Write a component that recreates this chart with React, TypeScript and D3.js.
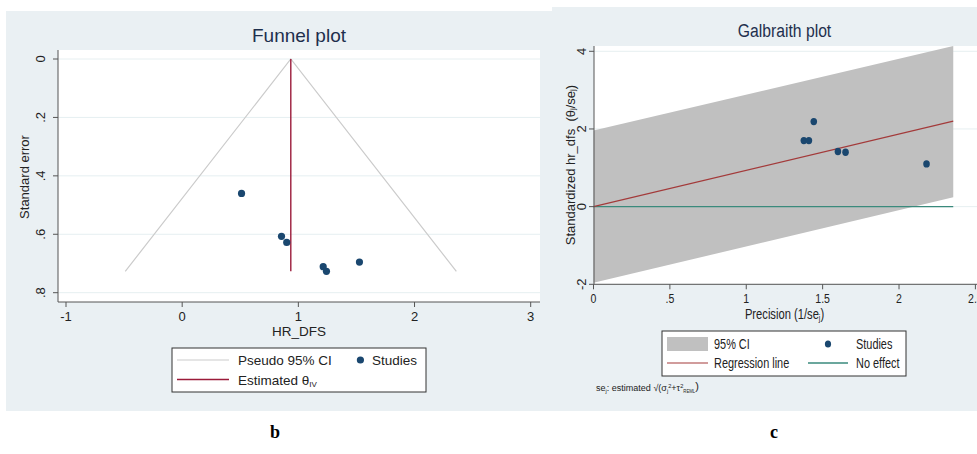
import * as d3 from 'd3';
import type { ReactNode } from 'react';

// Funnel plot (left): one point per study
const hrDfs = [0.511, 0.855, 0.9, 1.214, 1.242, 1.526];
const stdError = [0.46, 0.607, 0.628, 0.711, 0.727, 0.695];
const thetaIV = 0.935;
const funnelX = [-0.49, 0.935, 2.36];
const funnelSE = [0.727, 0, 0.727];
const funnelXTicks = [-1, 0, 1, 2, 3];
const funnelYTicks = [0, 0.2, 0.4, 0.6, 0.8];

// Galbraith plot (right)
const precision = [1.377, 1.41, 1.442, 1.6, 1.65, 2.18];
const standardized = [1.7, 1.7, 2.19, 1.42, 1.4, 1.1];
const bandX = [0, 2.355];
const bandUpper = [1.96, 4.16];
const bandLower = [-1.96, 0.24];
const regressionY = [0, 2.2];
const noEffectY = [0, 0];
const galXTicks = [0, 0.5, 1, 1.5, 2, 2.5];
const galYTicks = [-2, 0, 2, 4];

const fmt = (v: number) => {
  const s = String(v);
  return s.startsWith('0.') ? s.slice(1) : s.startsWith('-0.') ? '-' + s.slice(2) : s;
};

const BG = '#eaf0f3';
const GRID = '#e6eff1';
const AXIS = '#555';
const NAVY = '#1a476f';
const TXT = '#222';
const FONT = '"Liberation Sans", Arial, sans-serif';

// right-hand figure is horizontally squeezed in the source image
const SQ = 0.78;

function T({
  x, y, sx = 1, size = 13, anchor = 'start', fill = TXT, children,
}: { x: number; y: number; sx?: number; size?: number; anchor?: string; fill?: string; children: ReactNode }) {
  return (
    <text
      transform={`translate(${x},${y}) scale(${sx},1)`}
      textAnchor={anchor as any}
      fontSize={size}
      fill={fill}
    >
      {children}
    </text>
  );
}

function FunnelPanel() {
  const x = d3.scaleLinear().domain([-1, 3]).range([66, 530.7]);
  const y = d3.scaleLinear().domain([0, 0.8]).range([59, 292.7]);
  const plot = { left: 58, right: 540, top: 50, bottom: 302 };
  const funnel = d3
    .line<number>()
    .x((d) => x(funnelX[d]))
    .y((d) => y(funnelSE[d]))(d3.range(funnelX.length));

  return (
    <g fontFamily={FONT}>
      <rect x={6} y={11} width={546} height={400} fill={BG} />
      <T x={299} y={42} anchor="middle" size={19} fill="#1e2f4d">Funnel plot</T>
      <rect x={plot.left} y={plot.top} width={plot.right - plot.left} height={plot.bottom - plot.top} fill="#fff" />
      {funnelYTicks.map((t) => (
        <line key={t} x1={plot.left} x2={plot.right} y1={y(t)} y2={y(t)} stroke={GRID} strokeWidth={1} />
      ))}
      <path d={funnel ?? ''} fill="none" stroke="#cbcbcb" strokeWidth={1.2} />
      <line x1={x(thetaIV)} x2={x(thetaIV)} y1={y(0)} y2={y(d3.max(stdError) ?? 0)} stroke="#9b1b3a" strokeWidth={1.4} />
      {hrDfs.map((v, i) => (
        <circle key={i} cx={x(v)} cy={y(stdError[i])} r={3.6} fill={NAVY} />
      ))}
      <line x1={plot.left} x2={plot.left} y1={plot.top} y2={plot.bottom} stroke={AXIS} />
      <line x1={plot.left} x2={plot.right} y1={plot.bottom} y2={plot.bottom} stroke={AXIS} />
      {funnelYTicks.map((t) => (
        <g key={t}>
          <line x1={plot.left - 5} x2={plot.left} y1={y(t)} y2={y(t)} stroke={AXIS} />
          <text
            transform={`translate(40,${y(t)}) rotate(-90)`}
            textAnchor="middle"
            dominantBaseline="central"
            fontSize={13}
            fill={TXT}
          >
            {fmt(t)}
          </text>
        </g>
      ))}
      {funnelXTicks.map((t) => (
        <g key={t}>
          <line x1={x(t)} x2={x(t)} y1={plot.bottom} y2={plot.bottom + 5} stroke={AXIS} />
          <T x={x(t)} y={321} anchor="middle">{fmt(t)}</T>
        </g>
      ))}
      <text transform="translate(24,177) rotate(-90)" textAnchor="middle" dominantBaseline="central" fontSize={13} fill={TXT}>
        Standard error
      </text>
      <T x={299} y={336} anchor="middle" size={13.5}>HR_DFS</T>
      {/* legend */}
      <rect x={172} y={348} width={254} height={44} fill="#fff" stroke="#333" />
      <line x1={177} x2={229} y1={360} y2={360} stroke="#cbcbcb" strokeWidth={1.2} />
      <T x={238} y={365} size={13.5}>Pseudo 95% CI</T>
      <circle cx={360.4} cy={360} r={3.6} fill={NAVY} />
      <T x={372} y={365} size={13.5}>Studies</T>
      <line x1={177} x2={229} y1={379.5} y2={379.5} stroke="#9b1b3a" strokeWidth={1.4} />
      <T x={238} y={384.5} size={13.5}>
        Estimated θ<tspan fontSize={8} dy={2}>IV</tspan>
      </T>
    </g>
  );
}

function GalbraithPanel() {
  const x = d3.scaleLinear().domain([0, 2.5]).range([593.5, 975.4]);
  const y = d3.scaleLinear().domain([-2, 4]).range([284.3, 51.3]);
  const plot = { left: 594, right: 990, top: 46, bottom: 284.3 };
  const band = d3
    .area<number>()
    .x((d) => x(bandX[d]))
    .y0((d) => y(bandLower[d]))
    .y1((d) => Math.max(plot.top, y(bandUpper[d])))(d3.range(bandX.length));
  const line = (ys: number[]) =>
    d3
      .line<number>()
      .x((d) => x(bandX[d]))
      .y((d) => y(ys[d]))(d3.range(bandX.length)) ?? '';

  return (
    <g fontFamily={FONT}>
      <rect x={552} y={7} width={430} height={404} fill={BG} />
      <T x={784.5} y={37} sx={0.85} anchor="middle" size={18.5} fill="#1e2f4d">Galbraith plot</T>
      <rect x={plot.left} y={plot.top} width={plot.right - plot.left} height={plot.bottom - plot.top} fill="#fff" />
      {galYTicks.map((t) => (
        <line key={t} x1={plot.left} x2={plot.right} y1={y(t)} y2={y(t)} stroke={GRID} strokeWidth={1} />
      ))}
      <path d={band ?? ''} fill="#c0c0c0" />
      <path d={line(noEffectY)} fill="none" stroke="#3a8a7c" strokeWidth={1.3} />
      <path d={line(regressionY)} fill="none" stroke="#a33a3a" strokeWidth={1.2} />
      {precision.map((v, i) => (
        <ellipse key={i} cx={x(v)} cy={y(standardized[i])} rx={3.3} ry={3.7} fill={NAVY} />
      ))}
      <line x1={plot.left} x2={plot.left} y1={plot.top} y2={plot.bottom} stroke={AXIS} />
      <line x1={plot.left} x2={plot.right} y1={plot.bottom} y2={plot.bottom} stroke={AXIS} />
      {galYTicks.map((t) => (
        <g key={t}>
          <line x1={plot.left - 5} x2={plot.left} y1={y(t)} y2={y(t)} stroke={AXIS} />
          <text
            transform={`translate(581.5,${y(t)}) rotate(-90)`}
            textAnchor="middle"
            dominantBaseline="central"
            fontSize={13}
            fill={TXT}
          >
            {fmt(t)}
          </text>
        </g>
      ))}
      {galXTicks.map((t) => (
        <g key={t}>
          <line x1={x(t)} x2={x(t)} y1={plot.bottom} y2={plot.bottom + 5} stroke={AXIS} />
          <T x={x(t)} y={303} sx={SQ} anchor="middle" size={13.5}>{fmt(t)}</T>
        </g>
      ))}
      <text transform="translate(570,165) rotate(-90)" textAnchor="middle" dominantBaseline="central" fontSize={13} fill={TXT}>
        Standardized hr_dfs{'\u00a0\u00a0'}(θ<tspan fontSize={8} dy={2}>j</tspan>
        <tspan dy={-2}>/se</tspan>
        <tspan fontSize={8} dy={2}>j</tspan>
        <tspan dy={-2}>)</tspan>
      </text>
      <T x={784.5} y={319} sx={0.8} anchor="middle" size={14}>
        Precision (1/se<tspan fontSize={8.5} dy={2}>j</tspan>
        <tspan dy={-2}>)</tspan>
      </T>
      {/* legend */}
      <rect x={662} y={331} width={244} height={45} fill="#fff" stroke="#333" />
      <rect x={667} y={337} width={41} height={14} fill="#c0c0c0" />
      <T x={714} y={349} sx={SQ} size={14}>95% CI</T>
      <ellipse cx={828} cy={344} rx={3.1} ry={3.6} fill={NAVY} />
      <T x={856} y={349} sx={SQ} size={14}>Studies</T>
      <line x1={667} x2={708} y1={363} y2={363} stroke="#a33a3a" strokeWidth={1.2} />
      <T x={714} y={368} sx={SQ} size={14}>Regression line</T>
      <line x1={808} x2={848} y1={363} y2={363} stroke="#3a8a7c" strokeWidth={1.3} />
      <T x={856} y={368} sx={SQ} size={14}>No effect</T>
      <T x={596} y={391} sx={0.95} size={9.5}>
        se<tspan fontSize={6} dy={1.5}>j</tspan>
        <tspan dy={-1.5}>: estimated √(σ</tspan>
        <tspan fontSize={6} dy={1.5}>j</tspan>
        <tspan fontSize={6} dy={-5}>2</tspan>
        <tspan dy={3.5}>+τ</tspan>
        <tspan fontSize={6} dy={-3.5}>2</tspan>
        <tspan fontSize={4.5} dy={5}>REML</tspan>
        <tspan fontSize={11.5} dy={-2.5}>)</tspan>
      </T>
    </g>
  );
}

export default function App() {
  return (
    <svg
      width={977}
      height={454}
      style={{ position: 'absolute', left: 0, top: 0, background: '#fff' }}
    >
      <FunnelPanel />
      <GalbraithPanel />
      <text x={275} y={438} textAnchor="middle" fontFamily='"Liberation Serif", "Times New Roman", serif' fontWeight="bold" fontSize={18} fill="#000">
        b
      </text>
      <text x={774} y={438} textAnchor="middle" fontFamily='"Liberation Serif", "Times New Roman", serif' fontWeight="bold" fontSize={18} fill="#000">
        c
      </text>
    </svg>
  );
}
